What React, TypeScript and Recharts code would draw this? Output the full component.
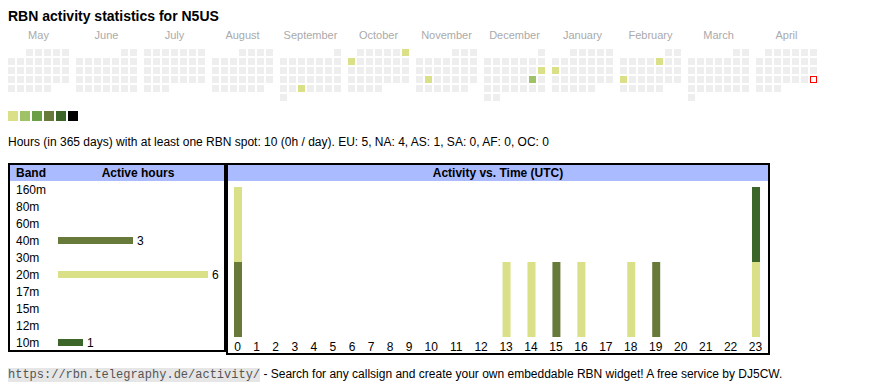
import { BarChart, Bar, XAxis, YAxis, Cell, LabelList, ScatterChart, Scatter } from 'recharts'

// calendar: May 2024 .. April 2025
const monthNames = ['May', 'June', 'July', 'August', 'September', 'October', 'November', 'December', 'January', 'February', 'March', 'April']
const activeDays = ['2024-09-25', '2024-10-06', '2024-10-07', '2024-11-19', '2024-12-15', '2024-12-21', '2025-01-13', '2025-02-07', '2025-02-17']
const activeDayHours = [1, 1, 1, 1, 1, 2, 1, 1, 1]
const today = '2025-04-27'
const levelColors = ['#eeeeee', '#d9e088', '#9fc266', '#6a9f45', '#677a3a', '#3c6629', '#000000']

// band table
const bands = ['160m', '80m', '60m', '40m', '30m', '20m', '17m', '15m', '12m', '10m']
const bandHours = [0, 0, 0, 3, 0, 6, 0, 0, 0, 1]
const bandColors = ['#000000', '#3c6629', '#6a9f45', '#677a3a', '#9fc266', '#d9e088', '#6a9f45', '#9fc266', '#3c6629', '#3c6629']

// activity vs. time, stacked bottom -> top
const hourLabels = ['0', '1', '2', '3', '4', '5', '6', '7', '8', '9', '10', '11', '12', '13', '14', '15', '16', '17', '18', '19', '20', '21', '22', '23']
const hours40m = [1, 0, 0, 0, 0, 0, 0, 0, 0, 0, 0, 0, 0, 0, 0, 1, 0, 0, 0, 1, 0, 0, 0, 0]
const hours20m = [1, 0, 0, 0, 0, 0, 0, 0, 0, 0, 0, 0, 0, 1, 1, 0, 1, 0, 1, 0, 0, 0, 0, 1]
const hours10m = [0, 0, 0, 0, 0, 0, 0, 0, 0, 0, 0, 0, 0, 0, 0, 0, 0, 0, 0, 0, 0, 0, 0, 1]

const FONT = 'Arial, "Liberation Sans", sans-serif'
const BLOCK = 68 / 9 // month block pitch in cell columns
const pad = (n: number) => String(n).padStart(2, '0')

const calendarCells: any[] = []
monthNames.forEach((_, m) => {
  const yr = 2024 + Math.floor((4 + m) / 12)
  const mo = (4 + m) % 12
  const days = new Date(Date.UTC(yr, mo + 1, 0)).getUTCDate()
  const offset = (new Date(Date.UTC(yr, mo, 1)).getUTCDay() + 6) % 7
  for (let d = 1; d <= days; d++) {
    const pos = offset + d - 1
    const key = `${yr}-${pad(mo + 1)}-${pad(d)}`
    const idx = activeDays.indexOf(key)
    calendarCells.push({
      col: m * BLOCK + (pos % 7),
      row: Math.floor(pos / 7),
      level: idx >= 0 ? activeDayHours[idx] : 0,
      today: key === today,
    })
  }
})
const monthTicks = monthNames.map((_, m) => m * BLOCK + 3)

const bandData = bands.map((band, i) => ({ band, hours: bandHours[i] }))

// hour columns are sized like auto table cells: wider for two-digit labels
const colWeights = hourLabels.map(l => l.length * 6.67 + 15)
const colTotal = colWeights.reduce((a, b) => a + b, 0)
const colCenters = colWeights.map((w, i) => colWeights.slice(0, i).reduce((a, b) => a + b, 0) + w / 2)
const hourData = hourLabels.map((hour, i) => ({ pos: colCenters[i], hour, b40: hours40m[i], b20: hours20m[i], b10: hours10m[i] }))
const hourSeries = [
  { key: 'b40', color: bandColors[3] },
  { key: 'b20', color: bandColors[5] },
  { key: 'b10', color: bandColors[9] },
]

function DayCell(props: any) {
  const { cx, cy, payload } = props
  if (payload.today) {
    return <rect x={cx - 3} y={cy - 3} width={6} height={6} fill="#fff" stroke="#ff0000" strokeWidth={1} />
  }
  return <rect x={cx - 3.5} y={cy - 3.5} width={7} height={7} fill={levelColors[payload.level]} />
}

function BandTick(props: any) {
  const { y, payload } = props
  return (
    <text x={6} y={y} dy={4} fontSize={12} fontFamily={FONT} fill="#000">
      {payload.value}
    </text>
  )
}

export default function App() {
  return (
    <div style={{ position: 'fixed', left: 0, top: 0, width: 870, height: 390, background: '#fff', fontFamily: FONT }}>
      <div style={{ position: 'absolute', left: 8, top: 7, fontSize: 14, fontWeight: 'bold', lineHeight: '18px' }}>
        RBN activity statistics for N5US
      </div>

      <div style={{ position: 'absolute', left: 0, top: 0 }}>
        <ScatterChart width={870} height={105} margin={{ top: 22.5, right: 56.5, left: 11.5, bottom: 7.5 }}>
          <XAxis
            dataKey="col"
            type="number"
            orientation="top"
            domain={[0, 11 * BLOCK + 6]}
            ticks={monthTicks}
            interval={0}
            height={30}
            tickLine={false}
            axisLine={false}
            tickSize={0}
            tickMargin={14}
            tick={{ fill: '#aaaaaa', fontSize: 11, fontFamily: FONT }}
            tickFormatter={(_v: any, i: number) => monthNames[i]}
          />
          <YAxis dataKey="row" type="number" domain={[0, 5]} reversed hide />
          <Scatter data={calendarCells} shape={(p: any) => <DayCell {...p} />} isAnimationActive={false} />
        </ScatterChart>
      </div>

      {levelColors.slice(1).map((c, i) => (
        <div key={c} style={{ position: 'absolute', left: 8 + i * 12, top: 111, width: 10, height: 10, background: c }} />
      ))}

      <div style={{ position: 'absolute', left: 8, top: 134, fontSize: 12, lineHeight: '16px', whiteSpace: 'nowrap' }}>
        Hours (in 365 days) with at least one RBN spot: 10 (0h / day). EU: 5, NA: 4, AS: 1, SA: 0, AF: 0, OC: 0
      </div>

      {/* band table */}
      <div style={{ position: 'absolute', left: 8, top: 163, width: 214, height: 185, border: '2px solid #000' }}>
        <div style={{ position: 'absolute', left: 0, top: 0, width: 214, height: 16, background: '#aabbff', fontSize: 12, fontWeight: 'bold', lineHeight: '16px' }}>
          <span style={{ position: 'absolute', left: 6 }}>Band</span>
          <span style={{ position: 'absolute', left: 128, transform: 'translateX(-50%)', whiteSpace: 'nowrap' }}>Active hours</span>
        </div>
        <div style={{ position: 'absolute', left: 0, top: 16 }}>
          <BarChart layout="vertical" width={214} height={170} data={bandData} margin={{ top: 0, right: 16, left: 0, bottom: 0 }}>
            <XAxis type="number" domain={[0, 6]} hide />
            <YAxis type="category" dataKey="band" width={48} axisLine={false} tickLine={false} tick={<BandTick />} interval={0} />
            <Bar dataKey="hours" barSize={7} isAnimationActive={false}>
              {bandData.map((d, i) => <Cell key={d.band} fill={bandColors[i]} />)}
              <LabelList
                dataKey="hours"
                position="right"
                offset={4}
                fill="#000"
                fontSize={12}
                fontFamily={FONT}
                formatter={(v: any) => (v > 0 ? v : '')}
              />
            </Bar>
          </BarChart>
        </div>
      </div>

      {/* activity vs time */}
      <div style={{ position: 'absolute', left: 226, top: 163, width: 540, height: 188, border: '2px solid #000' }}>
        <div style={{ position: 'absolute', left: 0, top: 0, width: 540, height: 16, background: '#aabbff', fontSize: 12, fontWeight: 'bold', lineHeight: '16px', textAlign: 'center' }}>
          Activity vs. Time (UTC)
        </div>
        <div style={{ position: 'absolute', left: 0, top: 16 }}>
          <BarChart width={540} height={172} data={hourData} margin={{ top: 6, right: 0, left: 0, bottom: 0 }}>
            <XAxis
              dataKey="pos"
              type="number"
              domain={[0, colTotal]}
              ticks={colCenters}
              interval={0}
              height={16}
              tickLine={false}
              axisLine={false}
              tickSize={4}
              tickMargin={1}
              tick={{ fill: '#000', fontSize: 12, fontFamily: FONT }}
              tickFormatter={(_v: any, i: number) => hourLabels[i]}
            />
            <YAxis type="number" domain={[0, 2]} hide />
            {hourSeries.map(s => (
              <Bar key={s.key} dataKey={s.key} stackId="a" fill={s.color} barSize={8} isAnimationActive={false} />
            ))}
          </BarChart>
        </div>
      </div>

      <div style={{ position: 'absolute', left: 8, top: 366, fontSize: 12, lineHeight: '16px', whiteSpace: 'nowrap' }}>
        <span style={{ fontFamily: '"Liberation Mono", monospace', fontSize: 12, background: '#e6e6e6', color: '#555' }}>
          https://rbn.telegraphy.de/activity/
        </span>
        {' - Search for any callsign and create your own embeddable RBN widget! A free service by DJ5CW.'}
      </div>
    </div>
  )
}
